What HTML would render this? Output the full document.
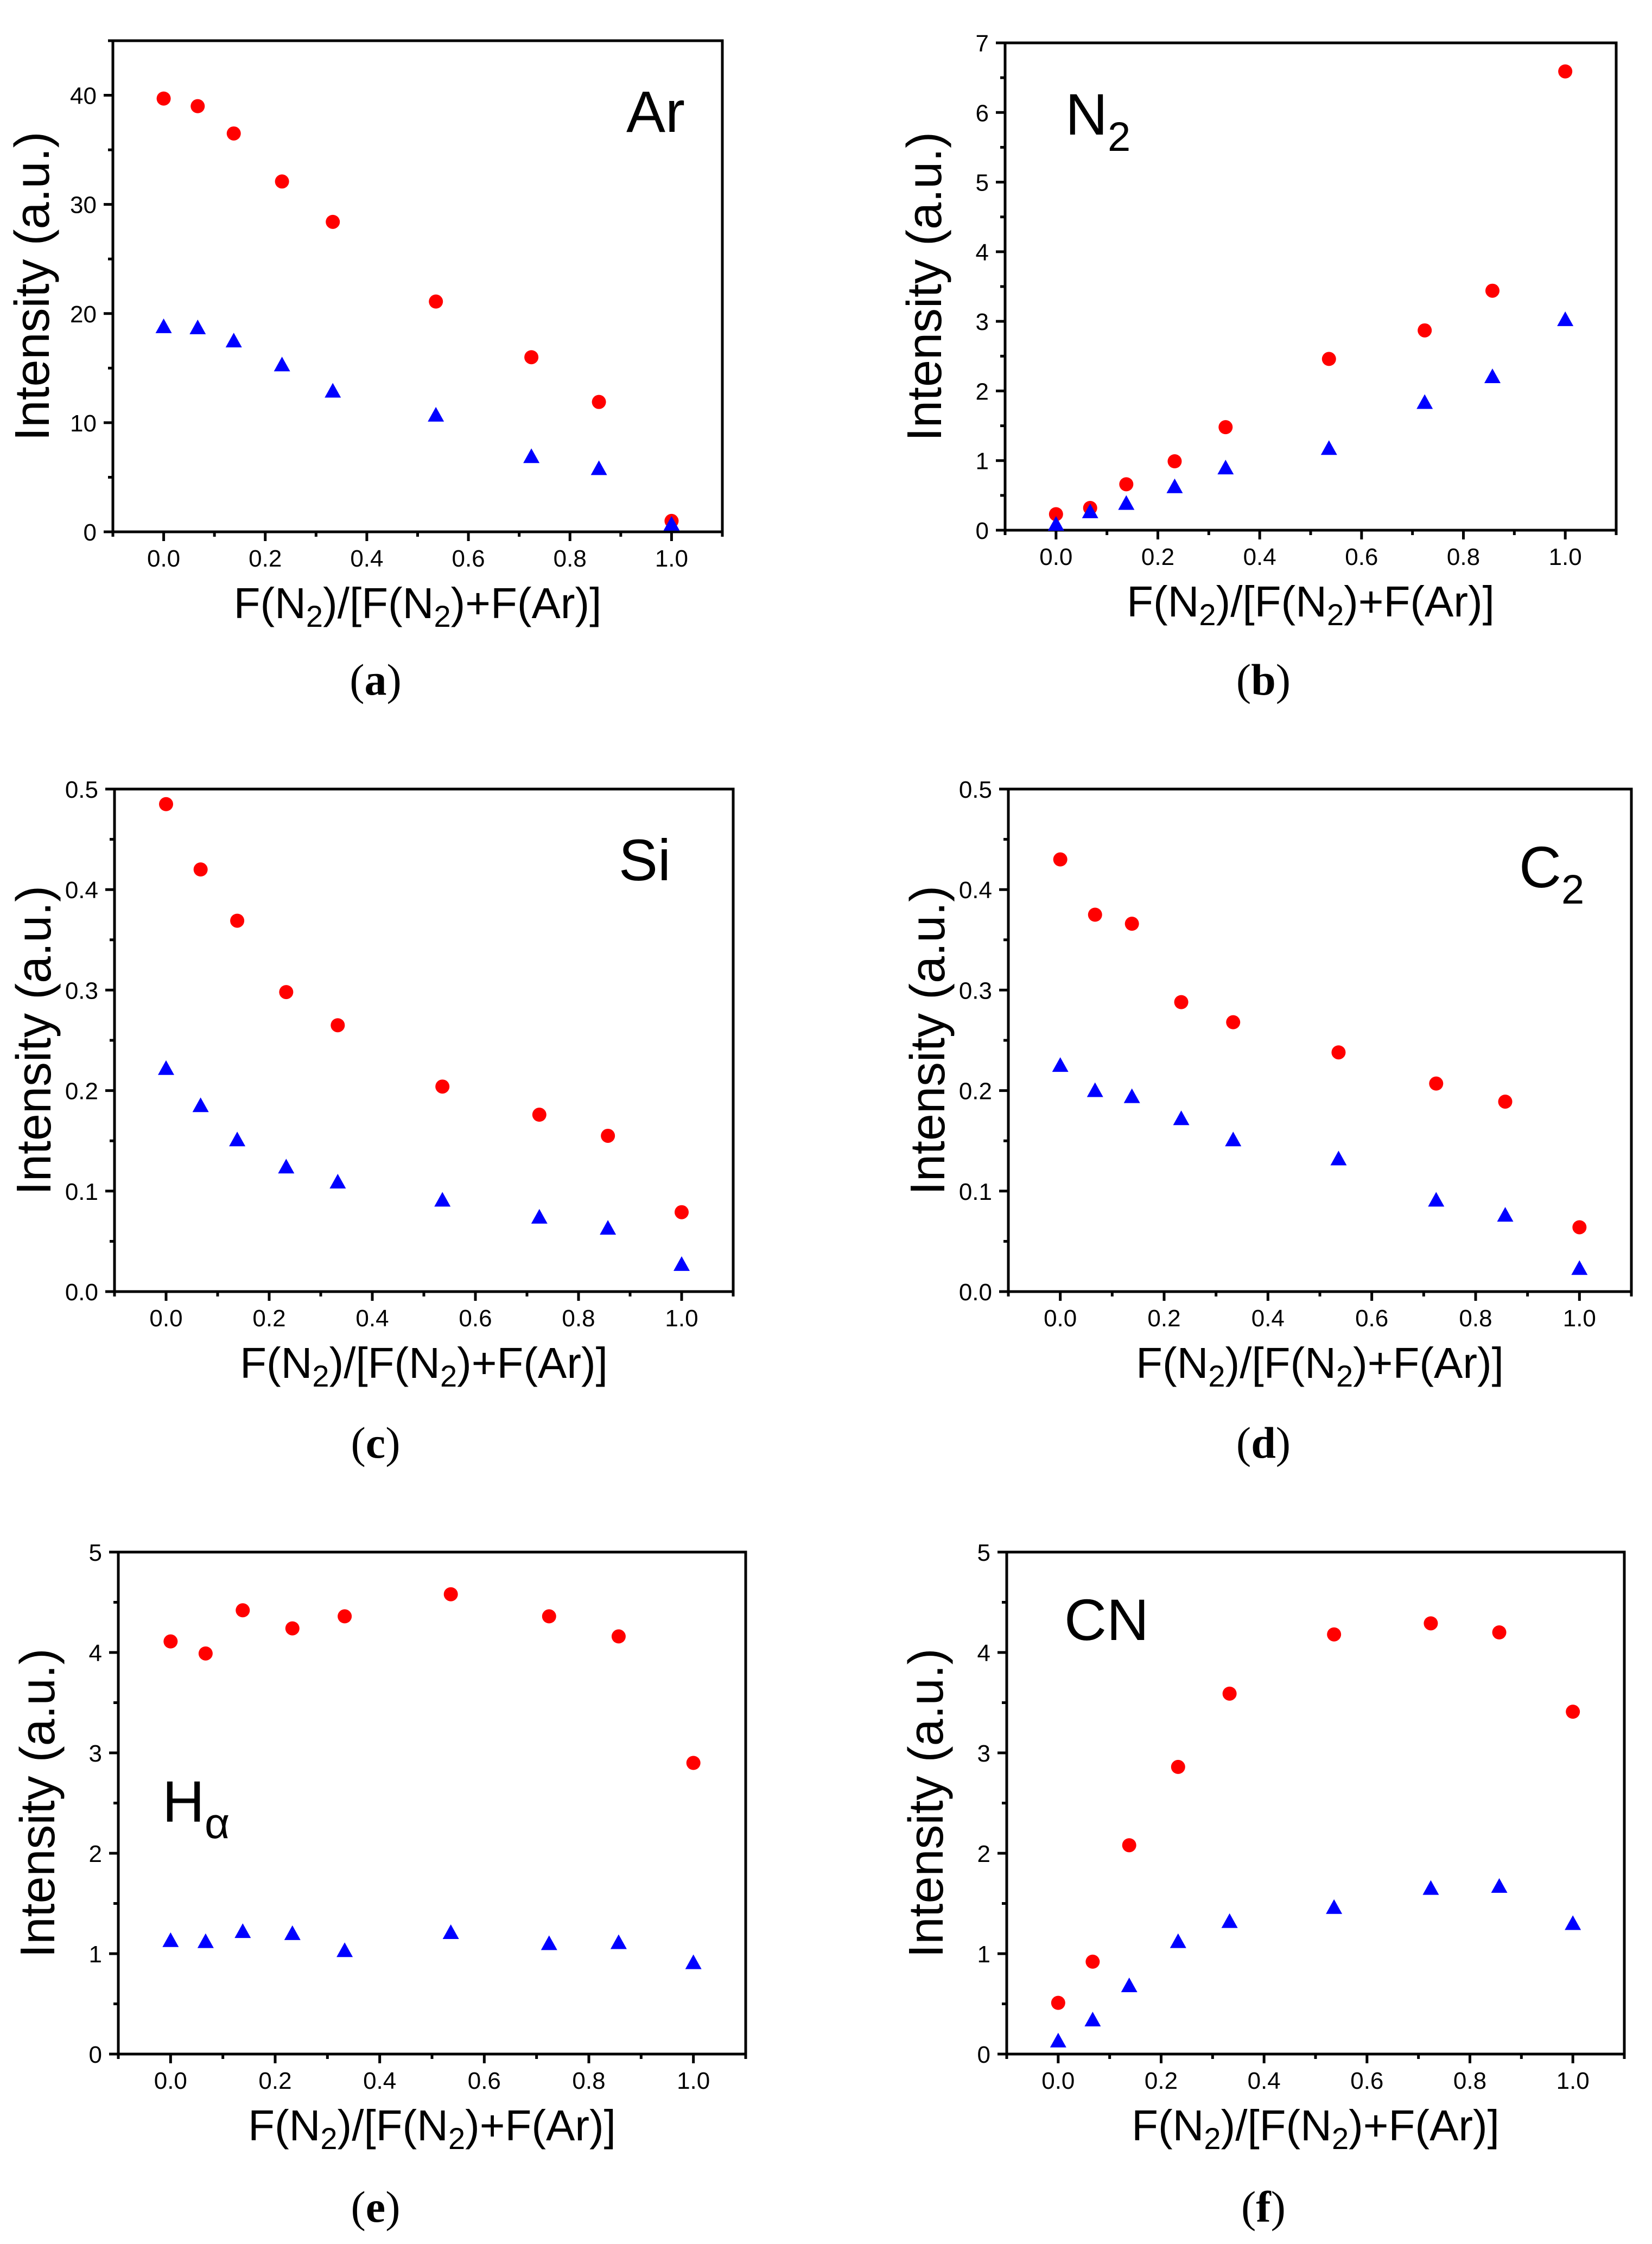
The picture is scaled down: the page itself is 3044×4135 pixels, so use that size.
<!DOCTYPE html>
<html><head><meta charset="utf-8">
<style>
html,body{margin:0;padding:0;background:#fff;}
svg{display:block;}
text{font-family:"Liberation Sans",sans-serif;fill:#000;}
.pl{font-family:"Liberation Serif",serif;}
</style></head>
<body>
<svg id="fig" width="3044" height="4135" viewBox="0 0 3044 4135" xmlns="http://www.w3.org/2000/svg"></svg>
<script>
const xVals = [0, 0.067, 0.138, 0.233, 0.333, 0.536, 0.724, 0.857, 1.0];
const arCircle = [39.7, 39.0, 36.5, 32.1, 28.4, 21.1, 16.0, 11.9, 1.0];
const arTriangle = [18.7, 18.6, 17.4, 15.2, 12.8, 10.6, 6.8, 5.7, 0.6];
const n2Circle = [0.23, 0.32, 0.66, 0.99, 1.48, 2.46, 2.87, 3.44, 6.59];
const n2Triangle = [0.07, 0.25, 0.37, 0.61, 0.88, 1.16, 1.82, 2.19, 3.01];
const siCircle = [0.485, 0.420, 0.369, 0.298, 0.265, 0.204, 0.176, 0.155, 0.079];
const siTriangle = [0.221, 0.184, 0.150, 0.123, 0.108, 0.090, 0.073, 0.062, 0.026];
const c2Circle = [0.430, 0.375, 0.366, 0.288, 0.268, 0.238, 0.207, 0.189, 0.064];
const c2Triangle = [0.224, 0.199, 0.193, 0.171, 0.150, 0.131, 0.090, 0.075, 0.022];
const haCircle = [4.11, 3.99, 4.42, 4.24, 4.36, 4.58, 4.36, 4.16, 2.90];
const haTriangle = [1.12, 1.11, 1.21, 1.19, 1.02, 1.20, 1.09, 1.10, 0.90];
const cnCircle = [0.51, 0.92, 2.08, 2.86, 3.59, 4.18, 4.29, 4.20, 3.41];
const cnTriangle = [0.12, 0.33, 0.67, 1.11, 1.31, 1.45, 1.64, 1.66, 1.29];
const xTickLabels = ["0.0", "0.2", "0.4", "0.6", "0.8", "1.0"];
const arYTicks = ["0", "10", "20", "30", "40"];
const n2YTicks = ["0", "1", "2", "3", "4", "5", "6", "7"];
const siYTicks = ["0.0", "0.1", "0.2", "0.3", "0.4", "0.5"];
const c2YTicks = ["0.0", "0.1", "0.2", "0.3", "0.4", "0.5"];
const haYTicks = ["0", "1", "2", "3", "4", "5"];
const cnYTicks = ["0", "1", "2", "3", "4", "5"];

const NS = "http://www.w3.org/2000/svg";
const svg = document.getElementById("fig");
function mk(tag, attrs, parent) {
  const e = document.createElementNS(NS, tag);
  for (const k in attrs) e.setAttribute(k, attrs[k]);
  (parent || svg).appendChild(e);
  return e;
}

const panels = [
  {id:"a", box:[208,1331,75,980], ymax:45, ymin:0, major:10, minor:5, yt:arYTicks, c:arCircle, t:arTriangle, letterX:692, letterY:1280, ann:{main:"Ar", sub:"", x:1154, y:243}},
  {id:"b", box:[1852,2978,79,977], ymax:7, ymin:0, major:1, minor:0.5, yt:n2YTicks, c:n2Circle, t:n2Triangle, letterX:2328, letterY:1280, ann:{main:"N", sub:"2", x:1963, y:248}},
  {id:"c", box:[211,1351,1454,2380], ymax:0.5, ymin:0, major:0.1, minor:0.05, yt:siYTicks, c:siCircle, t:siTriangle, letterX:692, letterY:2686, ann:{main:"Si", sub:"", x:1140, y:1622}},
  {id:"d", box:[1858,3006,1454,2380], ymax:0.5, ymin:0, major:0.1, minor:0.05, yt:c2YTicks, c:c2Circle, t:c2Triangle, letterX:2328, letterY:2686, ann:{main:"C", sub:"2", x:2799, y:1635}},
  {id:"e", box:[218,1374,2860,3785], ymax:5, ymin:0, major:1, minor:0.5, yt:haYTicks, c:haCircle, t:haTriangle, letterX:692, letterY:4094, ann:{main:"H", sub:"α", x:299, y:3357}},
  {id:"f", box:[1855,2993,2860,3785], ymax:5, ymin:0, major:1, minor:0.5, yt:cnYTicks, c:cnCircle, t:cnTriangle, letterX:2328, letterY:4094, ann:{main:"CN", sub:"", x:1961, y:3022}}
];

panels.forEach(p => {
  const [L, R, T, B] = p.box;
  const g = mk("g", {});
  
  
  const xs = v => L + (v + 0.1) / 1.2 * (R - L);
  const ys = v => B - (v - p.ymin) / (p.ymax - p.ymin) * (B - T);

  const frame = mk("rect", {x:L, y:T, width:R-L, height:B-T, fill:"none", stroke:"#000", "stroke-width":5}, g);
  
  

  for (let i = -1; i <= 11; i++) {
    const v = i / 10, x = xs(v), isMaj = (i % 2 === 0);
    const tk = mk("line", {x1:x, x2:x, y1:B, y2:B + (isMaj ? 17 : 9), stroke:"#000", "stroke-width":5}, g);
    
    
  }
  xTickLabels.forEach(s => {
    const t = mk("text", {x:xs(parseFloat(s)), y:B + 64, "font-size":44, "text-anchor":"middle"}, g);
    t.textContent = s;
    
    
  });
  const nMin = Math.round((p.ymax - p.ymin) / p.minor);
  for (let i = 0; i <= nMin; i++) {
    const v = p.ymin + i * p.minor;
    const isMaj = Math.abs(v / p.major - Math.round(v / p.major)) < 1e-6;
    const y = ys(v);
    const tk = mk("line", {x1:L - (isMaj ? 17 : 9), x2:L, y1:y, y2:y, stroke:"#000", "stroke-width":5}, g);
    
    
  }
  p.yt.forEach(s => {
    const t = mk("text", {x:L - 30, y:ys(parseFloat(s)) + 16, "font-size":44, "text-anchor":"end"}, g);
    t.textContent = s;
    
    
  });
  const cy = (T + B) / 2, cx = L - 118;
  const yt = mk("text", {x:cx, y:cy, "font-size":90, "text-anchor":"middle", transform:`rotate(-90 ${cx} ${cy})`}, g);
  yt.textContent = "Intensity (a.u.)";
  
  
  const xt = mk("text", {x:(L + R) / 2, y:B + 159, "font-size":80, "text-anchor":"middle"}, g);
  xt.innerHTML = 'F(N<tspan font-size="56" dy="16">2</tspan><tspan dy="-16">)/[F(N</tspan><tspan font-size="56" dy="16">2</tspan><tspan dy="-16">)+F(Ar)]</tspan>';
  
  
  const an = mk("text", {x:p.ann.x, y:p.ann.y, "font-size":108}, g);
  an.innerHTML = p.ann.main + (p.ann.sub ? `<tspan font-size="${p.ann.sub==='α'?80:76}" dy="30">${p.ann.sub}</tspan>` : "");
  
  
  const pl = mk("text", {x:p.letterX, y:p.letterY, "font-size":82, "text-anchor":"middle", class:"pl"}, g);
  pl.innerHTML = `(<tspan font-weight="bold">${p.id}</tspan>)`;
  
  
  xVals.forEach((xv, i) => {
    const cx2 = xs(xv), cy2 = ys(p.c[i]);
    const c = mk("circle", {cx:cx2, cy:cy2, r:13, fill:"#ff0000"}, g);
    
    
    const tx = xs(xv), ty = ys(p.t[i]);
    const tr = mk("polygon", {points:`${tx},${ty-17} ${tx-15},${ty+10} ${tx+15},${ty+10}`, fill:"#0000ff"}, g);
    
    
  });
});
</script>
</body></html>
